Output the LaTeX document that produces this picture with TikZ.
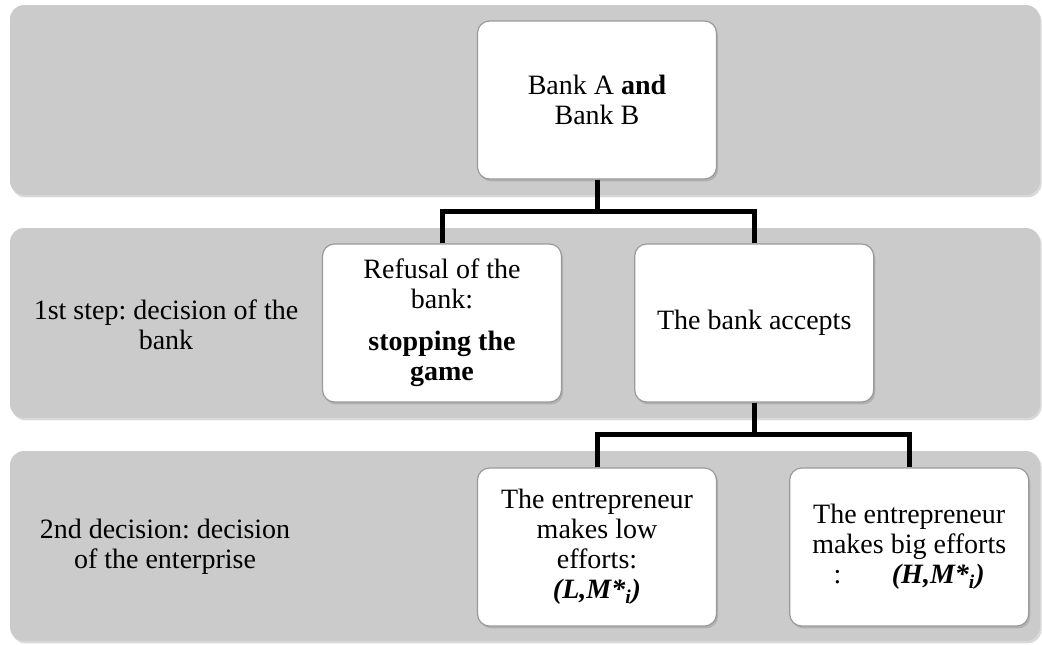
\documentclass[tikz,border=0pt]{standalone}
\usepackage{fontspec}
\IfFontExistsTF{LiberationSerif-Regular}
  {\setmainfont{LiberationSerif}[UprightFont=*-Regular, BoldFont=*-Bold,
     ItalicFont=*-Italic, BoldItalicFont=*-BoldItalic]}
  {\setmainfont{Liberation Serif}}
\usetikzlibrary{positioning,shadows}
\definecolor{bandgray}{HTML}{CBCBCB}
\definecolor{edgegray}{HTML}{9A9A9A}
\frenchspacing

\begin{document}
\begin{tikzpicture}[
    x=0.5pt, y=-0.5pt,
    band/.style={rectangle, rounded corners=7pt, fill=bandgray, minimum width=515pt, minimum height=95pt,
        drop shadow={shadow xshift=0.8pt, shadow yshift=-1.2pt, opacity=0.3}},
    box/.style={rectangle, rounded corners=6pt, draw=edgegray, line width=0.6pt, fill=white,
        minimum width=119.5pt, minimum height=79pt, align=center, font=\fontsize{14}{15}\selectfont,
        drop shadow={shadow xshift=0.8pt, shadow yshift=-1.2pt, opacity=0.35}},
    lbl/.style={align=center, font=\fontsize{14}{15}\selectfont},
    link/.style={line width=2.5pt}
]
    \useasboundingbox (0,0) rectangle (1042,644);

    % Background bands
    \node[band] (band1) at (525,100) {};
    \node[band] (band2) at (525,323) {};
    \node[band] (band3) at (525,546) {};

    % Row labels
    \node[lbl] (step1) at (166,325) {1st step: decision of the\\bank};
    \node[lbl] (step2) at (165,547) {2nd decision: decision\\of the enterprise};

    % Decision boxes
    \node[box] (banks) at (597,100) {Bank A \textbf{and}\\Bank B};
    \node[box] (refuse) at (442,323) {Refusal of the\\bank:\\[6pt]\textbf{stopping the}\\\textbf{game}};
    \node[box, right=36pt of refuse] (accept) {The bank accepts};
    \node[box] (low) at (597,547) {The entrepreneur\\makes low\\efforts:\\\textbf{\textit{(L,M*\textsubscript{i})}}};
    \node[box, right=36pt of low] (big) {The entrepreneur\\makes big efforts\\:\hspace{1.8em}\textbf{\textit{(H,M*\textsubscript{i})}}};

    % Branches
    \coordinate (j1) at ([yshift=-16pt]banks.south);
    \coordinate (j2) at ([yshift=-16pt]accept.south);
    \draw[link] (banks.south) -- (j1);
    \draw[link] (refuse.north) |- (j1) -| (accept.north);
    \draw[link] (accept.south) -- (j2);
    \draw[link] (low.north) |- (j2) -| (big.north);

\end{tikzpicture}
\end{document}
